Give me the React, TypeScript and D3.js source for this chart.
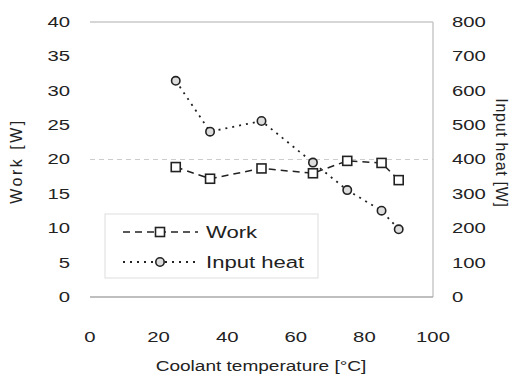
import React from "react";
import * as d3 from "d3";

const temps = [25, 35, 50, 65, 75, 85, 90];
const work = [18.9, 17.2, 18.7, 18.0, 19.8, 19.5, 17.0];
const inputHeat = [629, 481, 512, 391, 311, 251, 197];
const xTicks = [0, 20, 40, 60, 80, 100];
const yLeftTicks = [0, 5, 10, 15, 20, 25, 30, 35, 40];
const yRightTicks = [0, 100, 200, 300, 400, 500, 600, 700, 800];

const W = 513, H = 381;
const L = 90, R = 433, T = 22, B = 297;
const font = "'Liberation Sans', Arial, sans-serif";
const txt = "#222";

function Txt({ x, y, rot = 0, sx = 1, size, anchor = "start", ls = 0, children }: any) {
  return (
    <text
      transform={`translate(${x},${y}) rotate(${rot}) scale(${sx},1)`}
      textAnchor={anchor}
      dy="0.35em"
      fontSize={size}
      fontFamily={font}
      fill={txt}
      letterSpacing={ls}
    >
      {children}
    </text>
  );
}

export default function App() {
  const x = d3.scaleLinear().domain([0, 100]).range([L, R]);
  const yL = d3.scaleLinear().domain([0, 40]).range([B, T]);
  const yR = d3.scaleLinear().domain([0, 800]).range([B, T]);
  const workLine = d3.line<number>().x((_, i) => x(temps[i])).y((d) => yL(d));
  const heatLine = d3.line<number>().x((_, i) => x(temps[i])).y((d) => yR(d));
  return (
    <svg width={W} height={H} style={{ position: "absolute", left: 0, top: 0 }}>
      <rect width={W} height={H} fill="#fff" />
      <line x1={L} x2={R} y1={yL(20)} y2={yL(20)} stroke="#ccc" strokeDasharray="5,4" />
      <line x1={L} x2={R} y1={T} y2={T} stroke="#c8c8c8" strokeWidth={1.5} />
      <line x1={R} x2={R} y1={T} y2={B} stroke="#c8c8c8" strokeWidth={1.5} />
      <line x1={L} x2={R} y1={B} y2={B} stroke="#aaa" strokeWidth={1.5} />
      {yLeftTicks.map((t) => (
        <Txt key={"l" + t} x={70} y={yL(t)} anchor="end" size={14} sx={1.45}>{t}</Txt>
      ))}
      {yRightTicks.map((t) => (
        <Txt key={"r" + t} x={452} y={yR(t)} anchor="start" size={14} sx={1.45}>{t}</Txt>
      ))}
      {xTicks.map((t) => (
        <Txt key={"x" + t} x={x(t)} y={337} anchor="middle" size={14} sx={1.45}>{t}</Txt>
      ))}
      <Txt x={261} y={366} anchor="middle" size={15} sx={1.27}>Coolant temperature [°C]</Txt>
      <Txt x={16} y={161} rot={-90} anchor="middle" size={16} ls={2.5}>Work [W]</Txt>
      <Txt x={502} y={153} rot={90} anchor="middle" size={16} ls={0.7}>Input heat [W]</Txt>
      <path d={workLine(work) || ""} fill="none" stroke="#222" strokeWidth={1.5} strokeDasharray="7,5" />
      <path d={heatLine(inputHeat) || ""} fill="none" stroke="#222" strokeWidth={1.8} strokeDasharray="2,5" />
      {work.map((v, i) => (
        <rect key={"w" + i} x={x(temps[i]) - 4.5} y={yL(v) - 4.5} width={9} height={9} fill="#fff" stroke="#222" strokeWidth={1.6} />
      ))}
      {inputHeat.map((v, i) => (
        <circle key={"h" + i} cx={x(temps[i])} cy={yR(v)} r={4.2} fill="#ddd" stroke="#222" strokeWidth={1.6} />
      ))}
      <rect x={105} y={214} width={213} height={64} fill="#fff" stroke="#ddd" strokeWidth={1} />
      <line x1={123} x2={198} y1={232} y2={232} stroke="#222" strokeWidth={1.5} strokeDasharray="7,5" />
      <rect x={160 - 4.5} y={232 - 4.5} width={9} height={9} fill="#fff" stroke="#222" strokeWidth={1.6} />
      <Txt x={206} y={232} size={17} sx={1.3}>Work</Txt>
      <line x1={123} x2={198} y1={262} y2={262} stroke="#222" strokeWidth={1.8} strokeDasharray="2,5" />
      <circle cx={160} cy={262} r={4.2} fill="#ddd" stroke="#222" strokeWidth={1.6} />
      <Txt x={206} y={262} size={17} sx={1.3}>Input heat</Txt>
    </svg>
  );
}
